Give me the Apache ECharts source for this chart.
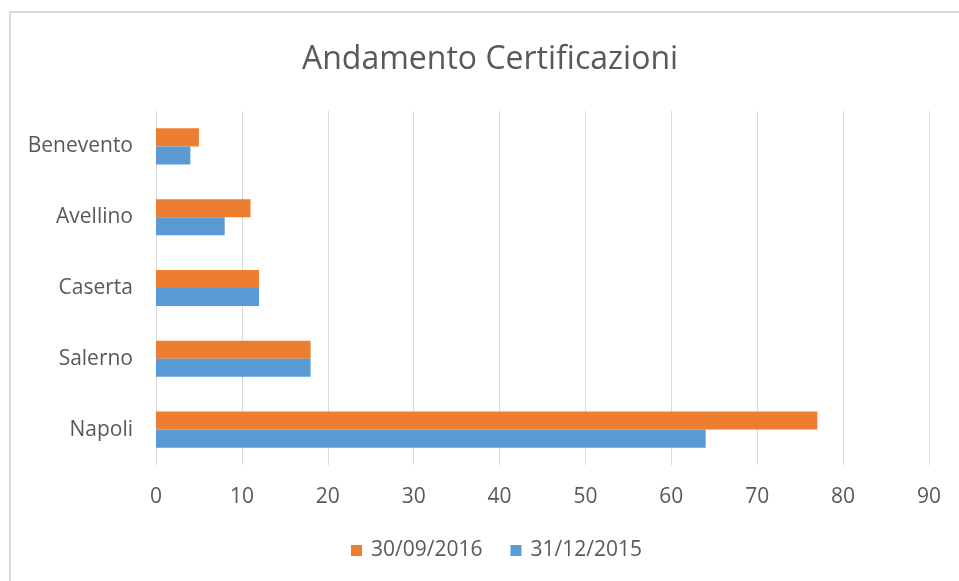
<!DOCTYPE html>
<html>
<head>
<meta charset="utf-8">
<script src="https://cdn.jsdelivr.net/npm/echarts@6/dist/echarts.min.js"></script>
<style>
  html, body { margin: 0; padding: 0; background: #fff; }
  #chart { width: 959px; height: 581px; }
</style>
</head>
<body>
<div id="chart"></div>
<script>
// dati
const categories = ["Napoli", "Salerno", "Caserta", "Avellino", "Benevento"];
const serie2016 = [77, 18, 12, 11, 5];
const serie2015 = [64, 18, 12, 8, 4];
const legendNames = ["30/09/2016", "31/12/2015"];

const textColor = "#595959";
const font = "Open Sans";

const chart = echarts.init(document.getElementById("chart"));

const option = {
  backgroundColor: "#fff",
  animation: false,
  title: {
    text: "Andamento Certificazioni",
    left: 297,
    top: 39,
    textStyle: { color: textColor, fontFamily: font, fontSize: 32, fontWeight: "normal" },
  },
  legend: {
    data: legendNames,
    bottom: 15,
    left: 346,
    itemWidth: 11,
    itemHeight: 11,
    itemGap: 28,
    icon: "rect",
    textStyle: { color: textColor, fontFamily: font, fontSize: 21, padding: [0, 0, 0, 4] },
  },
  grid: {
    left: 156,
    right: 30,
    top: 111,
    bottom: 116,
  },
  xAxis: {
    type: "value",
    min: 0,
    max: 90,
    interval: 10,
    axisLine: { show: false },
    axisTick: { show: false },
    splitLine: { lineStyle: { color: "#d9d9d9", width: 1 } },
    axisLabel: { color: textColor, fontFamily: font, fontSize: 21, margin: 22 },
  },
  yAxis: {
    type: "category",
    data: categories,
    axisLine: { show: false },
    axisTick: { show: false },
    axisLabel: { color: textColor, fontFamily: font, fontSize: 21, margin: 23, padding: [4, 0, 0, 0] },
  },
  graphic: [
    {
      type: "rect",
      shape: { x: 10, y: 12, width: 1000, height: 700 },
      style: { fill: null, stroke: "#d9d9d9", lineWidth: 2 },
      silent: true,
    },
  ],
  series: [
    {
      name: legendNames[0],
      type: "bar",
      data: serie2016,
      itemStyle: { color: "#ED7D31" },
      barGap: "0%",
      barCategoryGap: "49%",
    },
    {
      name: legendNames[1],
      type: "bar",
      data: serie2015,
      itemStyle: { color: "#5B9BD5" },
      barGap: "0%",
      barCategoryGap: "49%",
    },
  ],
};

chart.setOption(option);
</script>
</body>
</html>
